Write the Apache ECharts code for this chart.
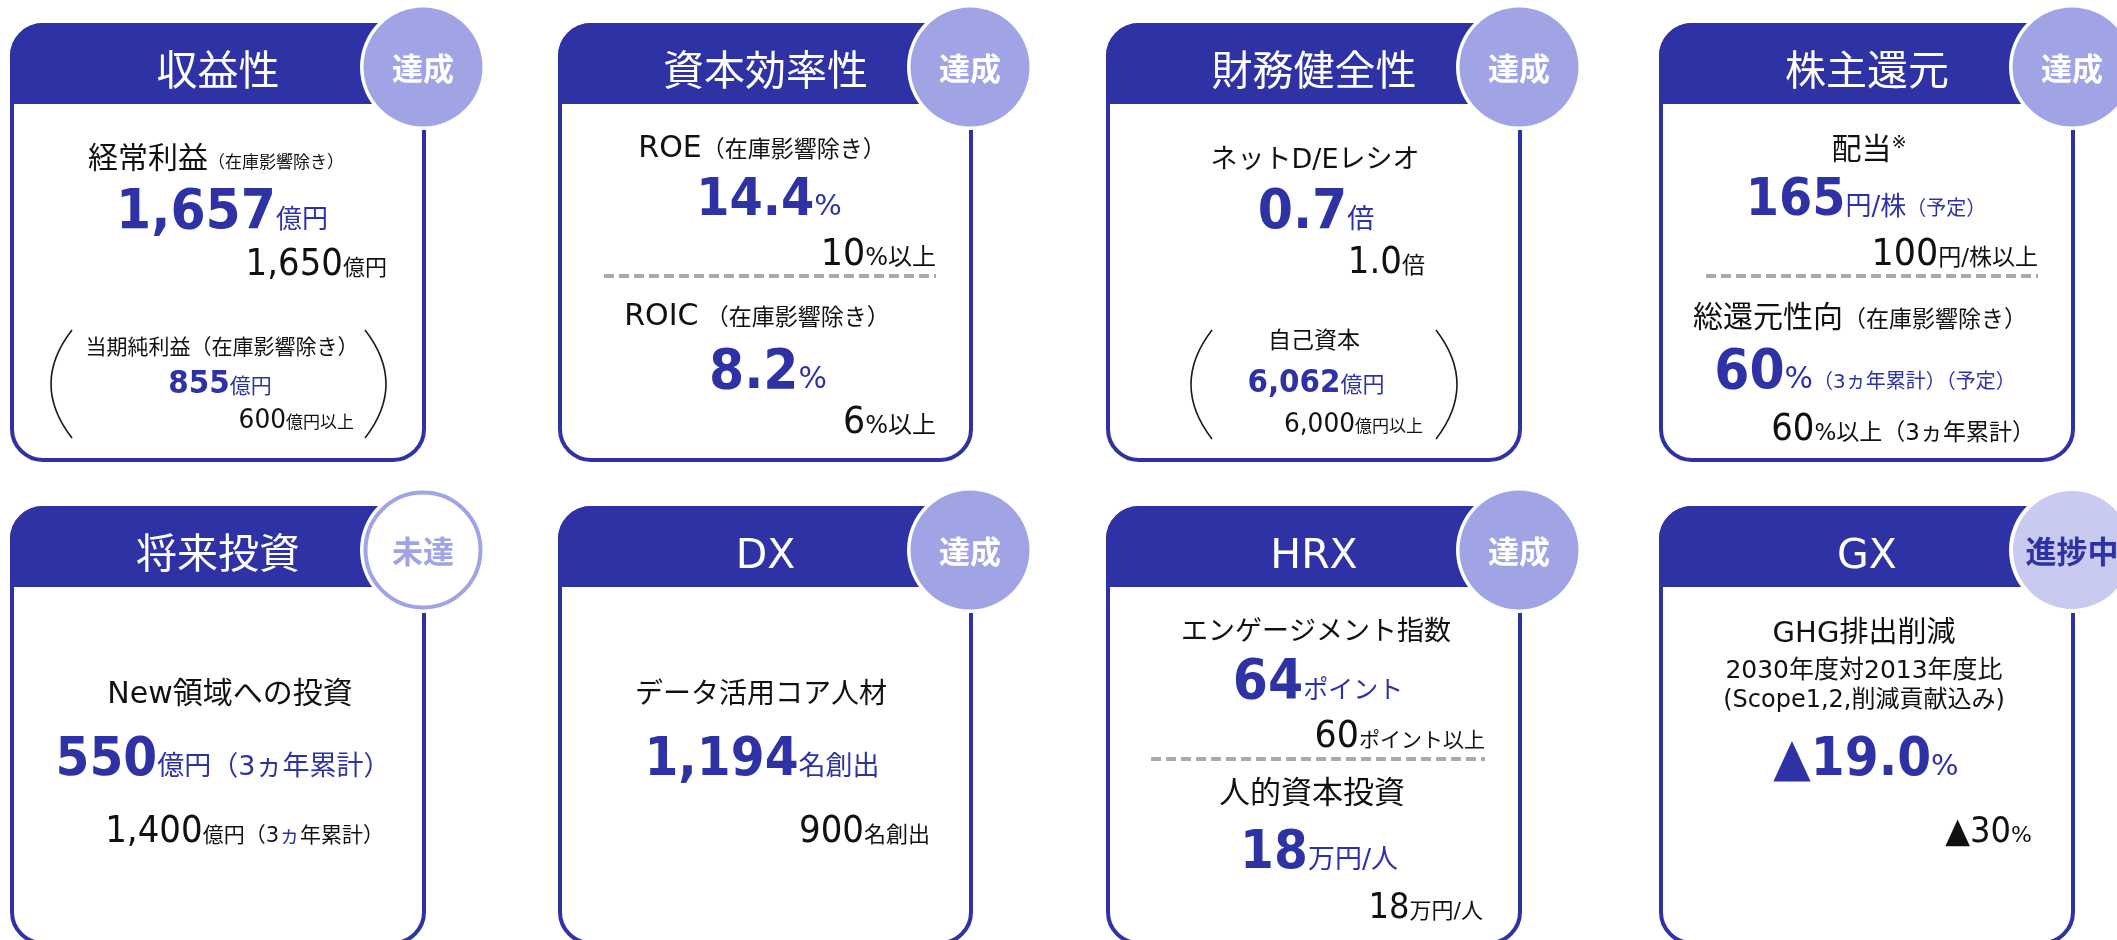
<!DOCTYPE html>
<html>
<head>
<meta charset="utf-8">
<script src="https://cdn.jsdelivr.net/npm/echarts@6/dist/echarts.min.js"></script>
<style>
  html, body { margin: 0; padding: 0; background: #fff; }
  #main { width: 2117px; height: 940px; }
</style>
</head>
<body>
<div id="main"></div>
<script>
(function () {

  // ---- データ ----
  var titles = ['収益性', '資本効率性', '財務健全性', '株主還元', '将来投資', 'DX', 'HRX', 'GX'];
  var statuses = ['達成', '達成', '達成', '達成', '未達', '達成', '達成', '進捗中'];

  var metricNames = [
    ['経常利益', '（在庫影響除き）'],
    ['ROE', '（在庫影響除き）'],
    ['ネットD/Eレシオ'],
    ['配当', '※'],
    ['New領域への投資'],
    ['データ活用コア人材'],
    ['エンゲージメント指数'],
    ['GHG排出削減']
  ];
  var results = [
    ['1,657', '億円'], ['14.4', '%'], ['0.7', '倍'], ['165', '円/株', '（予定）'],
    ['550', '億円（3ヵ年累計）'], ['1,194', '名創出'], ['64', 'ポイント'], ['▲19.0', '%']
  ];
  var targets = [
    ['1,650', '億円'], ['10', '%以上'], ['1.0', '倍'], ['100', '円/株以上'],
    ['1,400', '億円（3', 'ヵ', '年累計）'], ['900', '名創出'], ['60', 'ポイント以上'], ['▲30', '%']
  ];
  var subNames = [
    ['当期純利益（在庫影響除き）'], ['ROIC', ' （在庫影響除き）'], ['自己資本'], ['総還元性向', '（在庫影響除き）'],
    null, null, ['人的資本投資'], null
  ];
  var subResults = [
    ['855', '億円'], ['8.2', '%'], ['6,062', '億円'], ['60', '%', '（3ヵ年累計）（予定）'],
    null, null, ['18', '万円/人'], null
  ];
  var subTargets = [
    ['600', '億円以上'], ['6', '%以上'], ['6,000', '億円以上'], ['60', '%以上（3ヵ年累計）'],
    null, null, ['18', '万円/人'], null
  ];
  var notes = [null, null, null, null, null, null, null, ['2030年度対2013年度比', '(Scope1,2,削減貢献込み)']];

  // ---- レイアウト ----
  var cardLeft = [10, 558, 1106, 1659];
  var cardRight = [426, 973, 1522, 2075];
  var rowTop = [23, 506];
  var cardH = 439, headH = 81;

  // [x, baseline, sizes, blueFlags, rise]
  var layout = [
    { name: [216, 168, [30, 17]], result: [222, 228, [55, 26]], target: [387, 275, [37, 22]],
      subName: [222, 354, [21]], subResult: [220, 393, [32, 21]], subTarget: [354, 428, [27, 17]],
      paren: [72, 365, 330, 438] },
    { name: [762, 157, [30, 23]], result: [769, 215, [52, 29]], target: [936, 265, [38, 24]],
      dash: [604, 936, 276],
      subName: [757, 325, [30, 23]], subResult: [768, 388, [55, 30]], subTarget: [936, 433, [38, 24]] },
    { name: [1315, 168, [27]], result: [1316, 228, [55, 27]], target: [1425, 273, [37, 23]],
      subName: [1314, 348, [23]], subResult: [1316, 392, [32, 22]], subTarget: [1423, 432, [27, 17]],
      paren: [1212, 1436, 330, 439] },
    { name: [1869, 159, [30, 18], null, [0, -11]], result: [1866, 215, [52, 26, 20]], target: [2038, 265, [38, 23]],
      dash: [1706, 2038, 276],
      subName: [1860, 327, [30, 23]], subResult: [1865, 388, [55, 30, 20]], subTarget: [2035, 440, [37, 23]] },
    { name: [230, 703, [30]], result: [223, 775, [53, 27]], target: [384, 842, [37, 21, 21, 21], [0, 0, 1, 0]] },
    { name: [761, 703, [28]], result: [762, 775, [53, 27]], target: [930, 842, [37, 22]] },
    { name: [1316, 640, [27]], result: [1318, 698, [55, 25]], target: [1485, 747, [38, 21]],
      dash: [1151, 1485, 759],
      subName: [1312, 803, [31]], subResult: [1319, 868, [53, 27]], subTarget: [1483, 918, [35, 22]] },
    { name: [1864, 642, [29]], notes: [[1864, 678, [25]], [1864, 707, [24]]],
      result: [1866, 775, [53, 29]], target: [2032, 842, [35, 22]] }
  ];

  var NAVY = '#2e32a5';
  var BADGE = '#a0a4e4';
  var BADGE_LIGHT = '#c9caf0';
  var FAMILY = '"DejaVu Sans", "Noto Sans CJK JP", sans-serif';
  var NUM_SCALE = 0.92;

  var ctx = document.createElement('canvas').getContext('2d');
  var graphics = [];

  function font(fs, bold) {
    return (bold ? 'bold ' : '') + fs + 'px ' + FAMILY;
  }

  // textBaseline 'middle' から alphabetic までの距離
  function midOffset(f, fs) {
    ctx.font = f;
    ctx.textBaseline = 'alphabetic';
    var a = ctx.measureText('H').fontBoundingBoxAscent;
    ctx.textBaseline = 'middle';
    var b = ctx.measureText('H').fontBoundingBoxAscent;
    ctx.textBaseline = 'alphabetic';
    if (a == null || b == null || isNaN(a - b)) return fs * 0.346;
    return a - b;
  }

  function place(parts, x, base, align) {
    var total = 0;
    parts.forEach(function (p) {
      ctx.font = p.font;
      p.sx = p.sx || 1;
      p.w = ctx.measureText(p.t).width * p.sx;
      total += p.w;
    });
    var cur = align === 'center' ? x - total / 2 : (align === 'right' ? x - total : x);
    parts.forEach(function (p) {
      graphics.push({
        type: 'text', z: 10, silent: true,
        x: cur, y: base + (p.rise || 0) - midOffset(p.font, p.fs),
        scaleX: p.sx,
        style: { text: p.t, x: 0, y: 0, font: p.font, fill: p.color, align: 'left', verticalAlign: 'middle' }
      });
      cur += p.w;
    });
  }

  function plainParts(texts, lay, color) {
    return texts.map(function (t, k) {
      var fs = lay[2][k];
      return {
        t: t, fs: fs, font: font(fs, false),
        color: (lay[3] && lay[3][k]) ? NAVY : color,
        rise: lay[4] ? lay[4][k] : 0
      };
    });
  }
  function targetParts(texts, lay) {
    var parts = plainParts(texts, lay, '#111');
    parts[0].sx = NUM_SCALE;
    return parts;
  }
  function valueParts(texts, lay) {
    return texts.map(function (t, k) {
      var fs = lay[2][k];
      return { t: t, fs: fs, font: font(fs, k === 0), color: NAVY, sx: k === 0 ? NUM_SCALE : 1 };
    });
  }

  for (var i = 0; i < 8; i++) {
    var row = Math.floor(i / 4), col = i % 4;
    var L = cardLeft[col], R = cardRight[col], T = rowTop[row];
    var lay = layout[i];

    // カード枠とヘッダー
    graphics.push({ type: 'rect', z: 1, silent: true,
      shape: { x: L + 2, y: T + 2, width: R - L - 4, height: cardH - 4, r: 31 },
      style: { fill: '#fff', stroke: NAVY, lineWidth: 4 } });
    graphics.push({ type: 'rect', z: 2, silent: true,
      shape: { x: L, y: T, width: R - L, height: headH, r: [33, 33, 0, 0] },
      style: { fill: NAVY } });
    place([{ t: titles[i], fs: 41, font: font(41, false), color: '#fff' }], (L + R) / 2, T + 62, 'center');

    // バッジ
    var cx = R - 3, cy = T + 44;
    graphics.push({ type: 'circle', z: 3, silent: true, shape: { cx: cx, cy: cy, r: 63 }, style: { fill: '#fff' } });
    var txtColor = '#fff';
    if (statuses[i] === '未達') {
      graphics.push({ type: 'circle', z: 4, silent: true, shape: { cx: cx, cy: cy, r: 57.5 },
        style: { fill: '#fff', stroke: BADGE, lineWidth: 4 } });
      txtColor = BADGE;
    } else if (statuses[i] === '進捗中') {
      graphics.push({ type: 'circle', z: 4, silent: true, shape: { cx: cx, cy: cy, r: 59 }, style: { fill: BADGE_LIGHT } });
      txtColor = NAVY;
    } else {
      graphics.push({ type: 'circle', z: 4, silent: true, shape: { cx: cx, cy: cy, r: 59.5 }, style: { fill: BADGE } });
    }
    place([{ t: statuses[i], fs: 31, font: font(31, true), color: txtColor }], cx, cy + 13, 'center');

    // 本文
    place(plainParts(metricNames[i], lay.name, '#111'), lay.name[0], lay.name[1], 'center');
    if (notes[i]) {
      notes[i].forEach(function (n, k) {
        var nl = lay.notes[k];
        place(plainParts([n], nl, '#111'), nl[0], nl[1], 'center');
      });
    }
    place(valueParts(results[i], lay.result), lay.result[0], lay.result[1], 'center');
    place(targetParts(targets[i], lay.target), lay.target[0], lay.target[1], 'right');

    if (lay.dash) {
      graphics.push({ type: 'line', z: 5, silent: true,
        shape: { x1: lay.dash[0], y1: lay.dash[2], x2: lay.dash[1], y2: lay.dash[2] },
        style: { stroke: '#aaaaaa', lineWidth: 4, lineDash: [10, 5] } });
    }
    if (lay.paren) {
      var p = lay.paren, mid = (p[2] + p[3]) / 2;
      graphics.push({ type: 'bezierCurve', z: 5, silent: true,
        shape: { x1: p[0], y1: p[2], x2: p[0], y2: p[3], cpx1: p[0] - 42, cpy1: mid },
        style: { stroke: '#231815', lineWidth: 1.6, fill: null } });
      graphics.push({ type: 'bezierCurve', z: 5, silent: true,
        shape: { x1: p[1], y1: p[2], x2: p[1], y2: p[3], cpx1: p[1] + 42, cpy1: mid },
        style: { stroke: '#231815', lineWidth: 1.6, fill: null } });
    }
    if (subNames[i]) {
      place(plainParts(subNames[i], lay.subName, '#111'), lay.subName[0], lay.subName[1], 'center');
    }
    if (subResults[i]) {
      place(valueParts(subResults[i], lay.subResult), lay.subResult[0], lay.subResult[1], 'center');
    }
    if (subTargets[i]) {
      place(targetParts(subTargets[i], lay.subTarget), lay.subTarget[0], lay.subTarget[1], 'right');
    }
  }

  var chart = echarts.init(document.getElementById('main'), null, { renderer: 'canvas' });
  chart.setOption({
    backgroundColor: '#ffffff',
    animation: false,
    graphic: { elements: graphics }
  });

})();
</script>
</body>
</html>
